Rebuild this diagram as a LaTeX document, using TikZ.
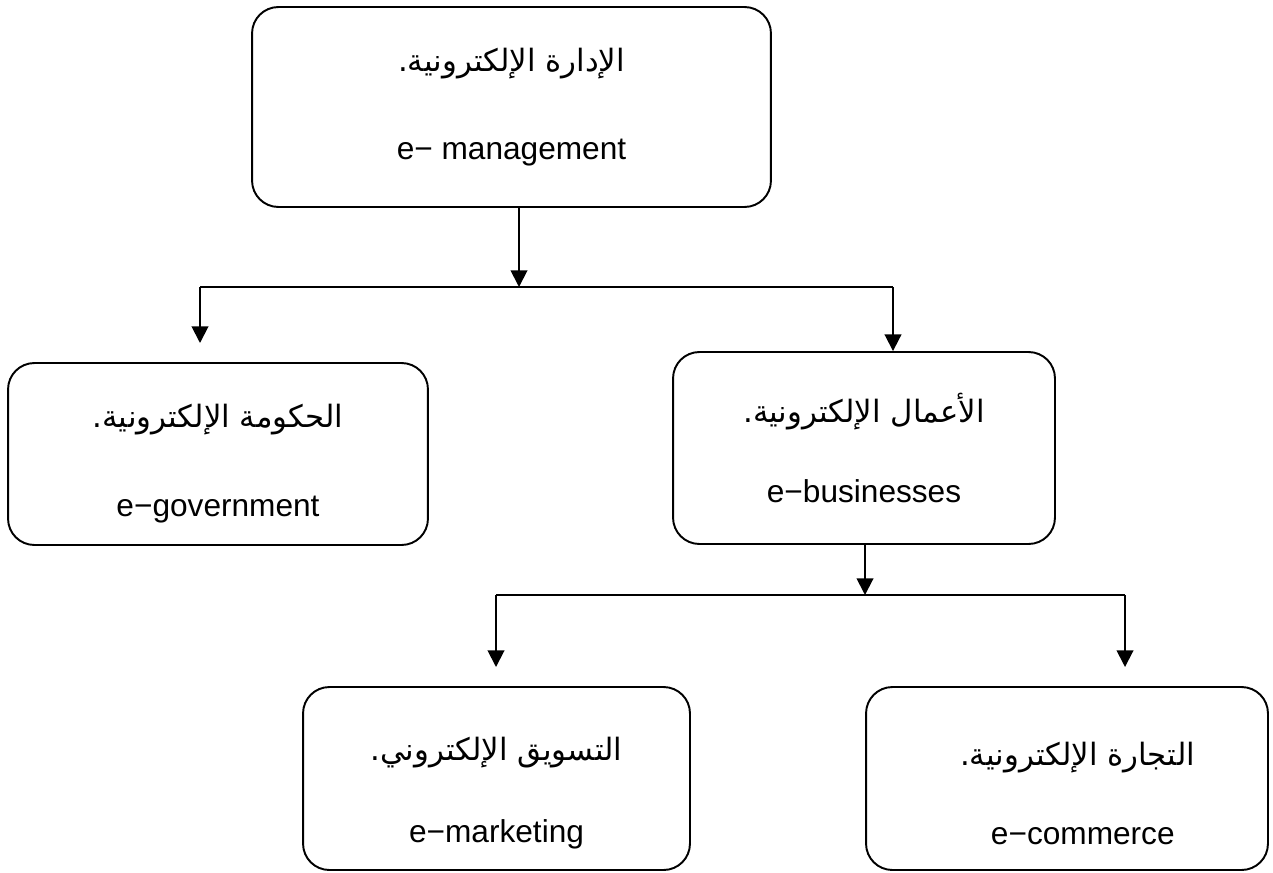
\documentclass[tikz,border=0pt]{standalone}
\usepackage{fontspec}
\setmainfont{Liberation Sans}
\newfontfamily\arabicfont[Script=Arabic]{DejaVu Sans}
\TeXXeTstate=1
\usetikzlibrary{arrows.meta}

\tikzset{
  box/.style={draw, line width=1.1pt, rounded corners=15pt, align=center,
    inner sep=0pt, font=\fontsize{18}{22}\selectfont},
  link/.style={line width=1.1pt},
  arrow/.style={link, -{Triangle[width=9.5pt,length=9.5pt]}}
}

\begin{document}
\begin{tikzpicture}[x=0.02cm, y=-0.02cm]
            \useasboundingbox (0,0) rectangle (1273,872);

            \node[box, minimum width=10.38cm, minimum height=4cm] (mgmt) at (511.5,107)
                {{\arabicfont\fontsize{17.5}{20}\selectfont\beginR الإدارة الإلكترونية.\endR}\\[28pt] e− management};
            \node[box, minimum width=8.4cm, minimum height=3.64cm] (gov) at (218,454)
                {\rule{0pt}{24pt}{\arabicfont\fontsize{17.5}{20}\selectfont\beginR الحكومة الإلكترونية.\endR}\\[29pt] e−government};
            \node[box, minimum width=7.64cm, minimum height=3.84cm] (bus) at (864,448)
                {{\arabicfont\fontsize{17.5}{20}\selectfont\beginR الأعمال الإلكترونية.\endR}\\[24pt] e−businesses};
            \node[box, minimum width=7.74cm, minimum height=3.66cm] (mkt) at (496.5,778.5)
                {\rule{0pt}{30pt}{\arabicfont\fontsize{17.5}{20}\selectfont\beginR التسويق الإلكتروني.\endR}\\[25pt] e−marketing};
            \node[box, minimum width=8.04cm, minimum height=3.66cm] (com) at (1067,778.5)
                {\rule{0pt}{30pt}\hspace*{12pt}{\arabicfont\fontsize{17.5}{20}\selectfont\beginR التجارة الإلكترونية.\endR}\\[23pt] \hspace*{18pt}e−commerce};

            \coordinate (j1) at (519,287);
            \coordinate (j1l) at (200,287);
            \coordinate (j1r) at (893,287);
            \coordinate (t1l) at (200,343);
            \coordinate (j2) at (865,595);
            \coordinate (j2l) at (496,595);
            \coordinate (j2r) at (1125,595);
            \coordinate (t2l) at (496,667);
            \coordinate (t2r) at (1125,667);

            \draw[arrow] (mgmt.south -| j1) to (j1);
            \draw[link] (j1l) to (j1r);
            \draw[arrow] (j1l) to (t1l);
            \draw[arrow] (j1r) to (j1r |- bus.north);

            \draw[arrow] (bus.south -| j2) to (j2);
            \draw[link] (j2l) to (j2r);
            \draw[arrow] (j2l) to (t2l);
            \draw[arrow] (j2r) to (t2r);
        \end{tikzpicture}
\end{document}
